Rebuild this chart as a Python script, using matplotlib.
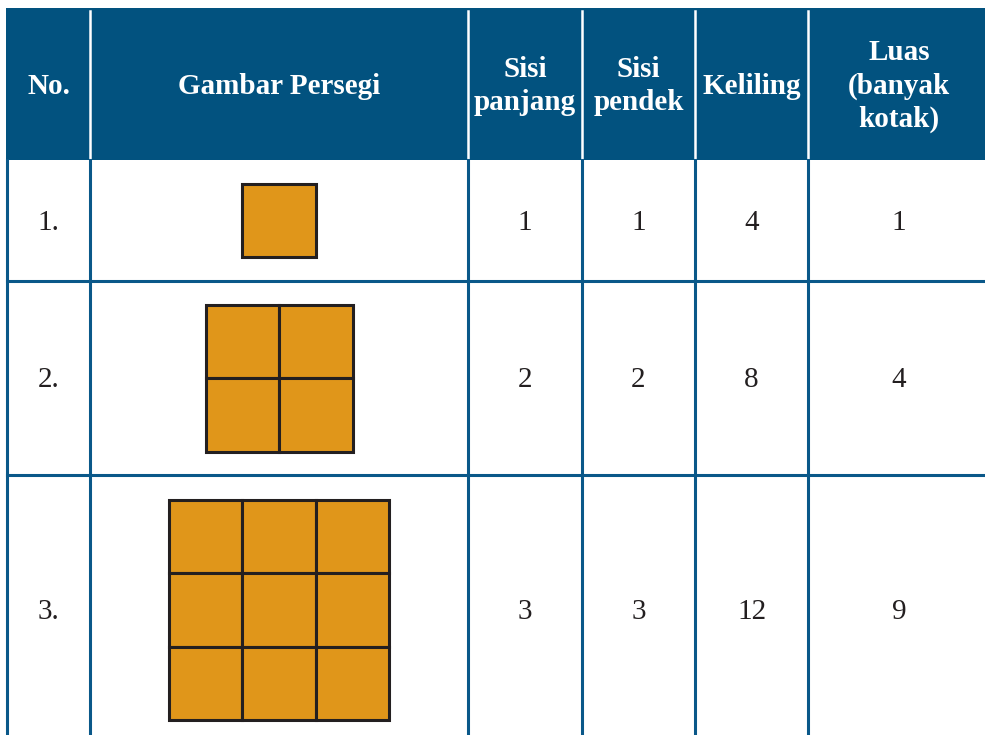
import matplotlib.pyplot as plt
from matplotlib.patches import Rectangle

# table data
headers = ["No.", "Gambar Persegi", "Sisi\npanjang", "Sisi\npendek", "Keliling", "Luas\n(banyak\nkotak)"]
nomor = ["1.", "2.", "3."]
sisi_panjang = [1, 2, 3]
sisi_pendek = [1, 2, 3]
keliling = [4, 8, 12]
luas = [1, 4, 9]

# layout in pixels
col_x = [7, 90, 468, 582, 695, 808, 990]
row_y = [8, 160, 281, 475, 745]
unit = 73.5

header_color = "#02527f"
line_color = "#0a5889"
fill_color = "#e0961a"
edge_color = "#231f20"
text_color = "#231f20"

plt.rcParams['font.family'] = ['Liberation Serif', 'DejaVu Serif']

fig = plt.figure(figsize=(9.85, 7.35), dpi=100)
ax = fig.add_axes([0, 0, 1, 1])
ax.set_xlim(0, 985)
ax.set_ylim(735, 0)
ax.axis('off')

# header
ax.add_patch(Rectangle((col_x[0] - 1, row_y[0]), col_x[-1] - col_x[0] + 1, row_y[1] - row_y[0],
                       facecolor=header_color, edgecolor='none'))
for x in col_x[1:-1]:
    ax.plot([x, x], [row_y[0] + 3, row_y[1] - 2], color='white', lw=1.8)

for i, h in enumerate(headers):
    cx = (col_x[i] + col_x[i + 1]) / 2
    ax.text(cx, (row_y[0] + row_y[1]) / 2 + 2, h, ha='center', va='center', color='white',
            fontsize=21, fontweight='bold', linespacing=1.3)

# body grid
for x in col_x[:-1]:
    ax.plot([x, x], [row_y[1], 735], color=line_color, lw=2.2)
for y in row_y[2:4]:
    ax.plot([col_x[0], 985], [y, y], color=line_color, lw=2.2)

# rows
for r in range(len(nomor)):
    cy = (row_y[r + 1] + row_y[r + 2]) / 2
    values = [nomor[r], None, sisi_panjang[r], sisi_pendek[r], keliling[r], luas[r]]
    for i, v in enumerate(values):
        if v is None:
            continue
        cx = (col_x[i] + col_x[i + 1]) / 2
        ax.text(cx, cy + 2, str(v), ha='center', va='center', color=text_color, fontsize=21)

    # squares grid
    n = sisi_panjang[r]
    cx = (col_x[1] + col_x[2]) / 2
    x0 = cx - n * unit / 2
    y0 = cy - n * unit / 2
    for i in range(n):
        for j in range(n):
            ax.add_patch(Rectangle((x0 + i * unit, y0 + j * unit), unit, unit,
                                   facecolor=fill_color, edgecolor=edge_color, lw=2.2))

fig.savefig("out.png", dpi=100)
